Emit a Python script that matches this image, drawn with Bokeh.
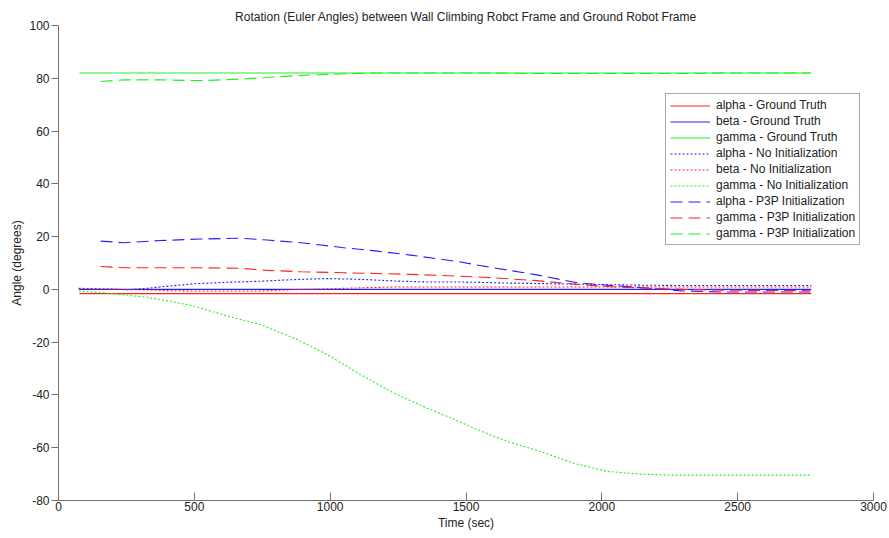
from bokeh.plotting import figure
from bokeh.models import Legend, LegendItem, FixedTicker, Range1d, CustomJSTickFormatter
from bokeh.embed import file_html
from bokeh.resources import INLINE

# ---- data ----
t_gt = [77, 2771]
alpha_gt = [-1.6, -1.6]
beta_gt = [0.0, 0.0]
gamma_gt = [82.0, 82.0]

t_ni = [74, 191, 253, 326, 412, 498, 621, 743, 866, 989, 1112, 1234, 1357, 1480,
        1529, 1651, 1774, 1897, 2020, 2142, 2265, 2400, 2550, 2771]
alpha_ni = [0.2, 0.0, -0.1, 0.4, 1.3, 2.1, 2.7, 3.1, 3.7, 4.1, 3.8, 3.2, 2.8, 2.8,
            2.7, 2.4, 2.2, 2.0, 1.8, 1.6, 1.5, 1.5, 1.5, 1.5]
beta_ni = [0.4, 0.2, -0.1, -0.2, -0.5, -0.6, -0.6, -0.6, -0.1, 0.2, 0.6, 0.9, 0.9, 0.9,
           0.9, 0.9, 0.9, 0.9, 0.9, 0.9, 0.9, 0.9, 0.9, 0.9]
gamma_ni = [-0.6, -1.5, -2.2, -3.0, -4.5, -6.3, -10.1, -13.3, -18.4, -24.7, -32.3, -39.3,
            -45.0, -50.3, -52.6, -57.6, -61.4, -65.9, -69.0, -70.0, -70.4, -70.4, -70.4, -70.4]

t_p3p = [155, 240, 375, 523, 670, 768, 891, 1050, 1173, 1296, 1480, 1565, 1750, 1910,
         2032, 2180, 2300, 2450, 2600, 2768]
alpha_p3p = [18.3, 17.7, 18.5, 19.1, 19.4, 18.7, 17.7, 15.8, 14.5, 13.0, 10.4, 8.8, 5.7,
             2.5, 1.5, 0.4, -0.6, -1.0, -1.0, -1.0]
gamma_p3p_red = [8.7, 8.2, 8.2, 8.2, 8.0, 7.2, 6.7, 6.3, 6.0, 5.7, 5.0, 4.6, 3.4, 1.9,
                 1.0, 0.4, 0.0, -0.3, -0.4, -0.5]
gamma_p3p_green = [78.8, 79.4, 79.4, 79.1, 79.7, 80.3, 81.1, 81.7, 82.0, 82.0, 82.0, 82.0,
                   81.8, 81.8, 81.8, 81.8, 81.8, 82.0, 82.0, 82.0]

x_ticks = [0, 500, 1000, 1500, 2000, 2500, 3000]
y_ticks = [-80, -60, -40, -20, 0, 20, 40, 60, 80, 100]

labels = ["alpha - Ground Truth", "beta - Ground Truth", "gamma - Ground Truth",
          "alpha - No Initialization", "beta - No Initialization", "gamma - No Initialization",
          "alpha - P3P Initialization", "gamma - P3P Initialization", "gamma - P3P Initialization"]

RED, BLUE, GREEN = "#ff2020", "#2020ff", "#20f020"
FONT = "Liberation Sans"

p = figure(width=889, height=538, output_backend="svg", toolbar_location=None,
           x_range=Range1d(0, 3000), y_range=Range1d(-80, 100),
           min_border_left=58, min_border_right=16, min_border_top=25, min_border_bottom=38)

p.title.text = "Rotation (Euler Angles) between Wall Climbing Robct Frame and Ground Robot Frame"
p.title.align = "center"
p.title.text_font = FONT
p.title.text_font_size = "12px"
p.title.text_font_style = "normal"
p.title.text_color = "#222222"
p.title.standoff = 4

p.outline_line_color = None
p.xgrid.visible = False
p.ygrid.visible = False
p.background_fill_color = "white"
p.border_fill_color = "white"

series = [
    (t_gt, alpha_gt, RED, "solid"),
    (t_gt, beta_gt, BLUE, "solid"),
    (t_gt, gamma_gt, GREEN, "solid"),
    (t_ni, alpha_ni, BLUE, "2 2"),
    (t_ni, beta_ni, RED, "2 2"),
    (t_ni, gamma_ni, GREEN, "2 2"),
    (t_p3p, alpha_p3p, BLUE, "12 6"),
    (t_p3p, gamma_p3p_red, RED, "12 6"),
    (t_p3p, gamma_p3p_green, GREEN, "12 6"),
]
items = []
for (tx, vy, col, dash), lab in zip(series, labels):
    r = p.line(tx, vy, line_color=col, line_width=1.1, line_dash=dash)
    items.append(LegendItem(label=lab, renderers=[r]))

legend = Legend(items=items, location=(607, 255))
legend.label_text_font = FONT
legend.label_text_font_size = "12px"
legend.label_text_color = "#222222"
legend.border_line_color = "#555555"
legend.border_line_width = 1
legend.background_fill_alpha = 1
legend.padding = 4
legend.spacing = 2
legend.margin = 0
legend.label_height = 13
legend.glyph_height = 13
legend.glyph_width = 40
legend.label_standoff = 6
p.add_layout(legend)

fmt = CustomJSTickFormatter(code="return tick.toFixed(0);")
for ax in (p.xaxis[0], p.yaxis[0]):
    ax.formatter = fmt
    ax.axis_line_color = "#707070"
    ax.major_tick_line_color = "#707070"
    ax.minor_tick_line_color = None
    ax.major_label_text_font = FONT
    ax.major_label_text_font_size = "12px"
    ax.major_label_text_color = "#222222"
    ax.axis_label_text_font = FONT
    ax.axis_label_text_font_size = "12px"
    ax.axis_label_text_font_style = "normal"
    ax.axis_label_text_color = "#222222"

p.xaxis.ticker = FixedTicker(ticks=x_ticks)
p.yaxis.ticker = FixedTicker(ticks=y_ticks)
p.xaxis.axis_label = "Time (sec)"
p.yaxis.axis_label = "Angle (degrees)"
p.xaxis.major_tick_in = 8
p.xaxis.major_tick_out = 0
p.xaxis.major_label_standoff = 1
p.xaxis.axis_label_standoff = 2
p.yaxis.major_tick_in = 0
p.yaxis.major_tick_out = 7
p.yaxis.major_label_standoff = 2
p.yaxis.axis_label_standoff = 2

open("out.html", "w").write(file_html(p, INLINE))
